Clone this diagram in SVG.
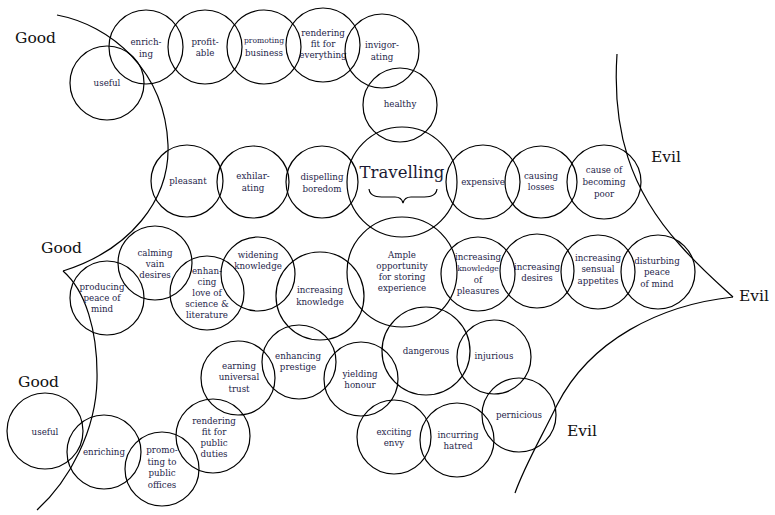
<svg xmlns="http://www.w3.org/2000/svg" width="775" height="515" viewBox="0 0 775 515">
<style>
  .c{fill:none;stroke:#000;stroke-width:1.2}
  text{font-family:"DejaVu Serif","Liberation Serif",serif}
  .t{font-size:8.7px;fill:#25254a;text-anchor:middle}
  .s{font-size:7.6px}
  .big{font-size:16.5px;fill:#1a1a33;text-anchor:middle}
  .lab{font-size:15.5px;fill:#111}
  .b{fill:none;stroke:#000;stroke-width:1.2}
</style>
<rect width="775" height="515" fill="#fff"/>
<g id="connectors">
  <path class="b" d="M57,15 C110,25 165,70 168,145 C170,200 130,250 63,271"/>
  <path class="b" d="M63,271 C85,290 98,330 97,380 C96,430 70,480 37,510"/>
  <path class="b" d="M617,54 C612,130 630,190 680,245 C700,268 720,285 733,297"/>
  <path class="b" d="M733,297 C660,305 590,340 557,405 C540,440 525,465 515,493"/>
</g>
<g id="labels">
  <text class="lab" x="15" y="43">Good</text>
  <text class="lab" x="41" y="253">Good</text>
  <text class="lab" x="18" y="387">Good</text>
  <text class="lab" x="651" y="162">Evil</text>
  <text class="lab" x="739" y="301">Evil</text>
  <text class="lab" x="567" y="436">Evil</text>
</g>
<g id="n-useful1"><circle class="c" cx="107" cy="83" r="37"/><text class="t" x="107" y="86">useful</text></g>
<g id="n-enriching1"><circle class="c" cx="146" cy="47" r="37"/><text class="t" x="146" y="45">enrich-<tspan x="146" dy="12">ing</tspan></text></g>
<g id="n-profitable"><circle class="c" cx="205" cy="47" r="37"/><text class="t" x="205" y="45">profit-<tspan x="205" dy="11">able</tspan></text></g>
<g id="n-promoting-business"><circle class="c" cx="264" cy="47" r="37"/><text class="t" x="264" y="43"><tspan class="s">promoting</tspan><tspan x="264" dy="13">business</tspan></text></g>
<g id="n-rendering-everything"><circle class="c" cx="323" cy="45" r="37"/><text class="t" x="323" y="36">rendering<tspan x="323" dy="11">fit for</tspan><tspan x="323" dy="11">everything</tspan></text></g>
<g id="n-invigorating"><circle class="c" cx="382" cy="51" r="37"/><text class="t" x="382" y="48">invigor-<tspan x="382" dy="12">ating</tspan></text></g>
<g id="n-healthy"><circle class="c" cx="400" cy="105" r="37"/><text class="t" x="400" y="107">healthy</text></g>
<g id="n-pleasant"><circle class="c" cx="187" cy="181" r="36"/><text class="t" x="188" y="184">pleasant</text></g>
<g id="n-exhilarating"><circle class="c" cx="253" cy="182" r="36"/><text class="t" x="253" y="179">exhilar-<tspan x="253" dy="12">ating</tspan></text></g>
<g id="n-dispelling"><circle class="c" cx="322" cy="182" r="36"/><text class="t" x="322" y="180">dispelling<tspan x="322" dy="12">boredom</tspan></text></g>
<g id="n-travelling"><circle class="c" cx="402" cy="182" r="55"/><text class="big" x="402" y="178">Travelling</text>
  <path class="b" d="M369,189 C370,197 378,197 385,197 L395,197 C400,197 402,199 403,203 C404,199 406,197 411,197 L421,197 C428,197 436,197 437,189"/></g>
<g id="n-expensive"><circle class="c" cx="483" cy="182" r="37"/><text class="t" x="483" y="185">expensive</text></g>
<g id="n-causing-losses"><circle class="c" cx="541" cy="182" r="36"/><text class="t" x="541" y="179">causing<tspan x="541" dy="11">losses</tspan></text></g>
<g id="n-becoming-poor"><circle class="c" cx="604" cy="182" r="37"/><text class="t" x="604" y="173">cause of<tspan x="604" dy="12">becoming</tspan><tspan x="604" dy="12">poor</tspan></text></g>
<g id="n-producing-peace"><circle class="c" cx="107" cy="298" r="37"/><text class="t" x="102" y="290">producing<tspan x="102" dy="11">peace of</tspan><tspan x="102" dy="11">mind</tspan></text></g>
<g id="n-calming"><circle class="c" cx="155" cy="263" r="37"/><text class="t" x="155" y="256">calming<tspan x="155" dy="11">vain</tspan><tspan x="155" dy="11">desires</tspan></text></g>
<g id="n-enhancing-love"><circle class="c" cx="207" cy="293" r="37"/><text class="t" x="207" y="274">enhan-<tspan x="207" dy="11">cing</tspan><tspan x="207" dy="11">love of</tspan><tspan x="207" dy="11">science &amp;</tspan><tspan x="207" dy="11">literature</tspan></text></g>
<g id="n-widening"><circle class="c" cx="258" cy="274" r="37"/><text class="t" x="258" y="258">widening<tspan x="258" dy="11">knowledge</tspan></text></g>
<g id="n-increasing-knowledge"><circle class="c" cx="320" cy="296" r="44"/><text class="t" x="320" y="293">increasing<tspan x="320" dy="12">knowledge</tspan></text></g>
<g id="n-ample"><circle class="c" cx="402" cy="272" r="55"/><text class="t" x="402" y="258">Ample<tspan x="402" dy="11">opportunity</tspan><tspan x="402" dy="11">for storing</tspan><tspan x="402" dy="11">experience</tspan></text></g>
<g id="n-knowledge-pleasures"><circle class="c" cx="478" cy="274" r="37"/><text class="t" x="478" y="260">increasing<tspan x="478" dy="11" class="s">knowledge</tspan><tspan x="478" dy="12">of</tspan><tspan x="478" dy="11">pleasures</tspan></text></g>
<g id="n-increasing-desires"><circle class="c" cx="537" cy="271" r="37"/><text class="t" x="537" y="270">increasing<tspan x="537" dy="11">desires</tspan></text></g>
<g id="n-sensual"><circle class="c" cx="598" cy="272" r="37"/><text class="t" x="598" y="261">increasing<tspan x="598" dy="11">sensual</tspan><tspan x="598" dy="12">appetites</tspan></text></g>
<g id="n-disturbing"><circle class="c" cx="658" cy="272" r="37"/><text class="t" x="657" y="264">disturbing<tspan x="657" dy="11">peace</tspan><tspan x="657" dy="12">of mind</tspan></text></g>
<g id="n-earning"><circle class="c" cx="238" cy="378" r="37"/><text class="t" x="239" y="369">earning<tspan x="239" dy="11">universal</tspan><tspan x="239" dy="12">trust</tspan></text></g>
<g id="n-prestige"><circle class="c" cx="299" cy="362" r="37"/><text class="t" x="298" y="359">enhancing<tspan x="298" dy="11">prestige</tspan></text></g>
<g id="n-yielding"><circle class="c" cx="361" cy="379" r="37"/><text class="t" x="360" y="377">yielding<tspan x="360" dy="11">honour</tspan></text></g>
<g id="n-dangerous"><circle class="c" cx="426" cy="351" r="44"/><text class="t" x="426" y="354">dangerous</text></g>
<g id="n-injurious"><circle class="c" cx="494" cy="357" r="37"/><text class="t" x="494" y="359">injurious</text></g>
<g id="n-pernicious"><circle class="c" cx="519" cy="415" r="37"/><text class="t" x="519" y="418">pernicious</text></g>
<g id="n-envy"><circle class="c" cx="394" cy="437" r="37"/><text class="t" x="394" y="435">exciting<tspan x="394" dy="11">envy</tspan></text></g>
<g id="n-hatred"><circle class="c" cx="457" cy="440" r="37"/><text class="t" x="458" y="438">incurring<tspan x="458" dy="11">hatred</tspan></text></g>
<g id="n-useful2"><circle class="c" cx="45" cy="431" r="38"/><text class="t" x="45" y="435">useful</text></g>
<g id="n-enriching2"><circle class="c" cx="104" cy="452" r="37"/><text class="t" x="104" y="455">enriching</text></g>
<g id="n-promoting-offices"><circle class="c" cx="162" cy="469" r="37"/><text class="t" x="162" y="453">promo-<tspan x="162" dy="11.5">ting to</tspan><tspan x="162" dy="11.5">public</tspan><tspan x="162" dy="11.5">offices</tspan></text></g>
<g id="n-public-duties"><circle class="c" cx="213" cy="436" r="37"/><text class="t" x="214" y="424">rendering<tspan x="214" dy="11">fit for</tspan><tspan x="214" dy="11">public</tspan><tspan x="214" dy="11">duties</tspan></text></g>
</svg>
